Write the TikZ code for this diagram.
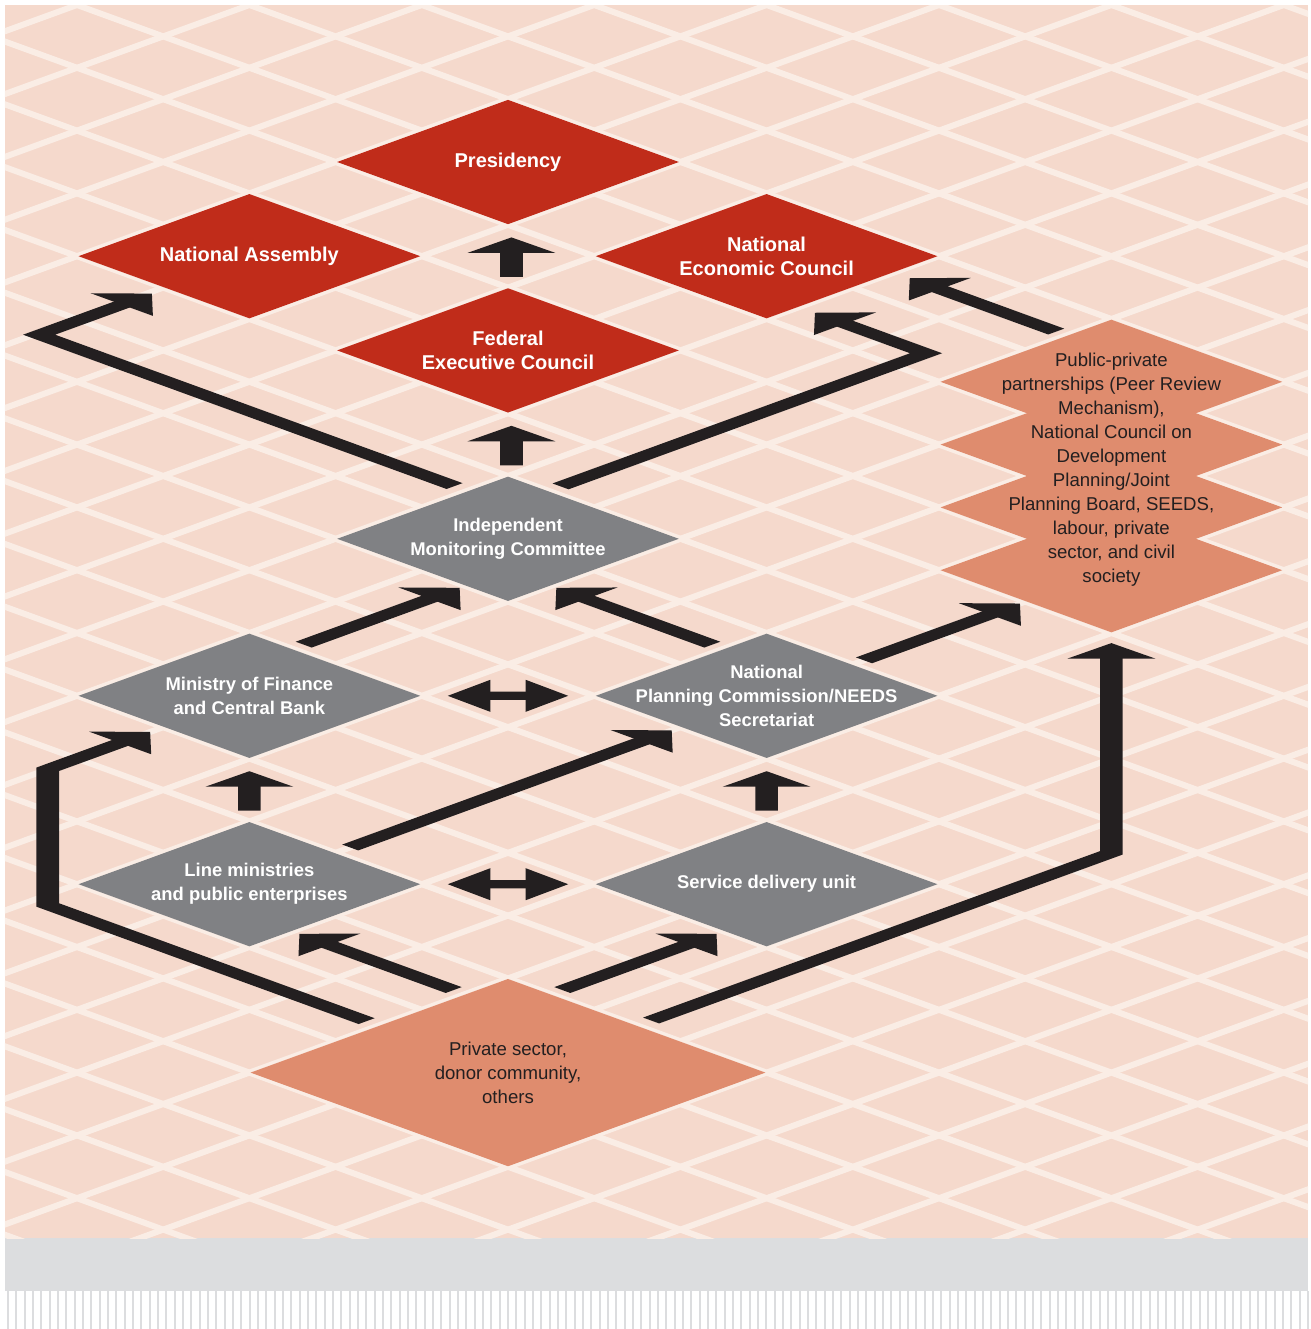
\documentclass[tikz,border=0pt]{standalone}
\usepackage{fontspec}
\setmainfont{Liberation Sans}
\usetikzlibrary{shapes.geometric,arrows.meta}
\definecolor{bgpink}{HTML}{F5D9CC}
\definecolor{latwhite}{HTML}{FAEDE5}
\definecolor{govred}{HTML}{C02C1A}
\definecolor{govgray}{HTML}{808184}
\definecolor{govsalmon}{HTML}{DF8C6E}
\definecolor{arrowblack}{HTML}{231F20}
\definecolor{bandgray}{HTML}{DCDDDF}
\begin{document}
\begin{tikzpicture}[x={(43.1pt,15.7pt)}, y={(-43.1pt,15.7pt)}]
	\tikzstyle{box} = [diamond, inner sep=0pt, minimum width=171pt, minimum height=62.3pt]
	\tikzstyle{bigbox} = [diamond, inner sep=0pt, minimum width=257.6pt, minimum height=93.8pt]
	\tikzstyle{redtxt} = [text=white, align=center, font=\fontsize{10}{12}\selectfont\bfseries]
	\tikzstyle{graytxt} = [text=white, align=center, font=\fontsize{9.2}{12}\selectfont\bfseries]
	\tikzstyle{salmontxt} = [text=arrowblack, align=center, font=\fontsize{9.3}{12}\selectfont]
	\tikzstyle{lat} = [draw=latwhite, line width=3pt]
	\tikzstyle{flow} = [draw=arrowblack, line width=0.186cm, line join=miter, -{Triangle[length=0.35cm,width=0.7cm]}]
	\tikzstyle{twoway} = [flow, {Triangle[length=0.35cm,width=0.7cm]}-{Triangle[length=0.35cm,width=0.7cm]}]

	\useasboundingbox (-254pt,81pt) rectangle (401.5pt,-583.5pt);
	\fill[bgpink] (-251.5pt,78.5pt) rectangle (400pt,-538pt);
	\fill[bandgray] (-251.5pt,-538pt) rectangle (400pt,-564.5pt);
	\foreach \k in {0,...,156}
		\fill[bandgray] ({-250.5pt+\k*4.167pt},-564.5pt) rectangle ++(1pt,-19pt);

	\begin{scope}
		\clip (-251.5pt,78.5pt) rectangle (400pt,-538pt);
		\foreach \k in {-21,...,8} \draw[lat] (\k,-23) -- (\k,7);
		\foreach \k in {-22,...,6} \draw[lat] (-22,\k) -- (9,\k);
	\end{scope}

	\node[box, fill=govred, label={[redtxt]center:Presidency}] (pres) at (0,0) {};
	\node[box, fill=govred, label={[redtxt]center:National Assembly}] (na) at (-3,0) {};
	\node[box, fill=govred, label={[redtxt]center:{National\\Economic Council}}] (nec) at (0,-3) {};
	\node[box, fill=govred, label={[redtxt]center:{Federal\\Executive Council}}] (fec) at (-3,-3) {};
	\node[box, fill=govgray, label={[graytxt]center:{Independent\\Monitoring Committee}}] (imc) at (-6,-6) {};
	\node[box, fill=govgray, label={[graytxt]center:{Ministry of Finance\\and Central Bank}}] (mof) at (-10,-7) {};
	\node[box, fill=govgray, label={[graytxt]center:{National\\Planning Commission/NEEDS\\Secretariat}}] (npc) at (-7,-10) {};
	\node[box, fill=govgray, label={[graytxt]center:{Line ministries\\and public enterprises}}] (lmin) at (-13,-10) {};
	\node[box, fill=govgray, label={[graytxt]center:Service delivery unit}] (sdu) at (-10,-13) {};
	\node[bigbox, fill=govsalmon, label={[salmontxt]center:{Private sector,\\donor community,\\others}}] (priv) at (-14.5,-14.5) {};
	\foreach \n in {0,...,3}
		\node[box, fill=govsalmon] (pp\n) at (-\n,-7-\n) {};
	\node[salmontxt, yshift=3pt] (ppp) at (-1.5,-8.5) {Public-private\\partnerships (Peer Review\\Mechanism),\\National Council on\\Development\\Planning/Joint\\Planning Board, SEEDS,\\labour, private\\sector, and civil\\society};

	\begin{scope}[transform canvas={cm={1.5148,0.5518,-1.5148,0.5518,(0,0)}}, x=1cm, y=1cm]
		\coordinate (f1) at (-1.81,-1.85); \coordinate (p1) at (-1.18,-1.22);
		\coordinate (i1) at (-4.81,-4.85); \coordinate (f2) at (-4.18,-4.22);
		\coordinate (l1) at (-11.83,-8.83); \coordinate (m1) at (-11.2,-8.2);
		\coordinate (s1) at (-8.83,-11.83); \coordinate (n1) at (-8.2,-11.2);
		\coordinate (m2) at (-8.85,-8.15); \coordinate (n2) at (-8.15,-8.85);
		\coordinate (l2) at (-11.85,-11.15); \coordinate (s2) at (-11.15,-11.85);
		\coordinate (m3) at (-8.87,-6.5); \coordinate (i2) at (-7.06,-6.5);
		\coordinate (n3) at (-6.5,-8.87); \coordinate (i3) at (-6.5,-7.06);
		\coordinate (n4) at (-5.87,-10); \coordinate (pa) at (-4.06,-10);
		\coordinate (l3) at (-11.83,-10); \coordinate (n5) at (-8.1,-10);
		\coordinate (v1) at (-13.5,-12.87); \coordinate (l4) at (-13.5,-11.08);
		\coordinate (v2) at (-12.87,-13.5); \coordinate (s3) at (-11.08,-13.5);
		\coordinate (v3) at (-14.5,-12.86); \coordinate (m4) at (-11.15,-7);
		\coordinate (v4) at (-12.84,-14.5); \coordinate (pb) at (-4.16,-11.16);
		\coordinate (i4) at (-5.47,-4.85); \coordinate (a1) at (-4.16,-0.03);
		\coordinate (i5) at (-4.86,-5.47); \coordinate (e1) at (-0.62,-4.18);
		\coordinate (pc) at (0.48,-5.88); \coordinate (e2) at (0.48,-4.18);

		\draw[flow] (f1) -- (p1);
		\draw[flow] (i1) -- (f2);
		\draw[flow] (l1) -- (m1);
		\draw[flow] (s1) -- (n1);
		\draw[twoway] (m2) -- (n2);
		\draw[twoway] (l2) -- (s2);
		\draw[flow] (m3) -- (i2);
		\draw[flow] (n3) -- (i3);
		\draw[flow] (n4) -- (pa);
		\draw[flow] (l3) -- (n5);
		\draw[flow] (v1) -- (l4);
		\draw[flow] (v2) -- (s3);
		\draw[flow] (v3) -- ++(0,3.7) -- ++(2.16,2.16) -- (m4);
		\draw[flow] (v4) -- ++(5.34,0) -- (pb);
		\draw[flow] (i4) |- (a1);
		\draw[flow] (i5) -| (e1);
		\draw[flow] (pc) -- (e2);
	\end{scope}
\end{tikzpicture}
\end{document}
